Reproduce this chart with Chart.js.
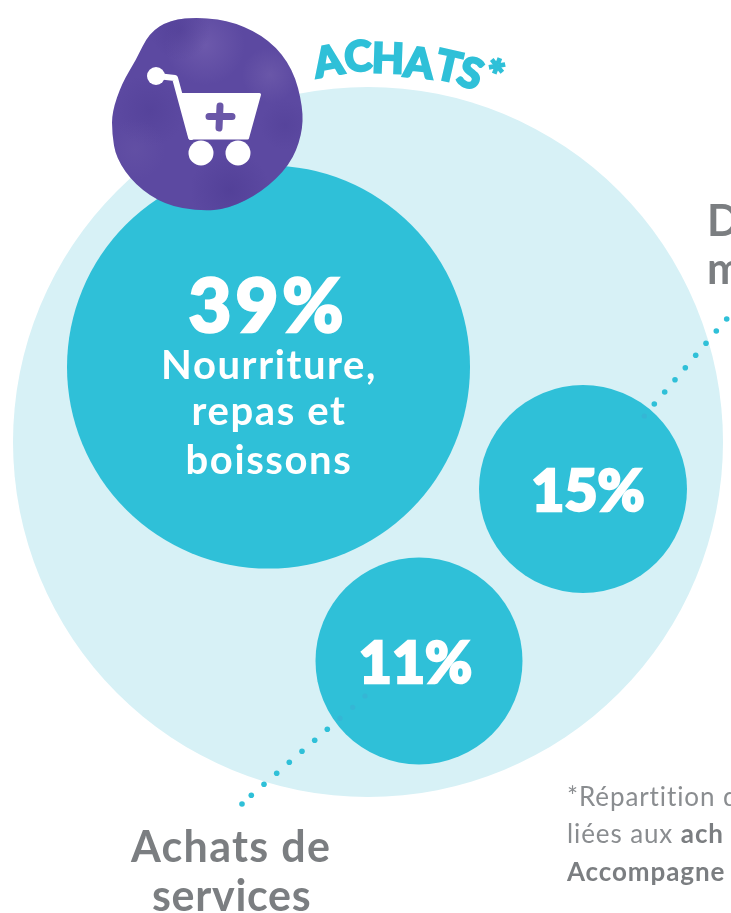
<!DOCTYPE html>
<html lang="fr">
<head>
<meta charset="utf-8">
<style>
  html, body { margin: 0; width: 731px; height: 913px; overflow: hidden; background: #fff; }
  body { position: relative; font-family: "Lato", sans-serif; }
  canvas { position: absolute; left: 0; top: 0; }
  .txt { position: absolute; white-space: nowrap; line-height: 1; }
  .pct { color: #fff; font-weight: 900; transform: translate(-50%, -50%); -webkit-text-stroke: 2.5px #fff; }
  .name { color: #fff; font-weight: 700; font-size: 40px; letter-spacing: 1.6px; text-align: center; transform: translateX(-50%); }
  .side { color: #7b7e81; font-weight: 700; font-size: 43px; text-align: center; }
  .note { color: #8a8d90; font-size: 26px; letter-spacing: 0.9px; }
  .note b { color: #7b7e81; }
  .letter { color: #2fc0d8; font-weight: 900; font-size: 42px; transform: translate(-50%, -50%); -webkit-text-stroke: 2px #2fc0d8; }
</style>
</head>
<body>
<canvas id="chart" width="731" height="913"></canvas>
<script src="https://cdn.jsdelivr.net/npm/chart.js"></script>
<script>
  // shares
  const shares = [39, 15, 11];
  const bubbleX = [268.5, 583, 419];
  const bubbleY = [367, 489, 661];
  const bubbleR = [201.5, 104, 103.5];

  const outerX = [368];
  const outerY = [442];
  const outerR = [355];

  // dotted leader lines
  const dotsX = [726.7, 716.3, 706, 695.7, 685.3, 675, 664.7, 654.3, 327.3, 314.7, 302, 289.3, 276.7, 264, 251.3, 242];
  const dotsY = [319, 331, 343.3, 355.3, 367.7, 379.7, 392, 404, 729.3, 740.3, 751.3, 762.3, 773.3, 784.3, 795.3, 804];
  const fadedX = [644.3, 340, 352.7, 365];
  const fadedY = [416, 718.3, 707.3, 696];

  const zip = (xs, ys, rs) => xs.map((x, i) => ({ x: x, y: ys[i], r: rs ? rs[i] : undefined }));

  // purple blob with the cart icon on top of the circles
  const blobOutline = [[200,17],[235,22],[270,40],[293,69],[303,107],[302,135],[290,165],[262,192],[228,209],[200,211],[165,205],[135,185],[116,158],[112,133],[112,112],[122,83],[136,60],[149,33],[170,20]];
  const blotches = [[205,45,40,"#7a66b4",.55],[270,75,28,"#7764b0",.5],[150,110,36,"#4c3a92",.4],[230,190,40,"#4a3890",.5],[135,150,30,"#6a58a8",.4],[285,125,25,"#4e3c94",.4],[180,30,30,"#4c3a92",.5]];

  const cartIcon = {
    id: "cartIcon",
    afterDatasetsDraw(chart) {
      const c = chart.ctx;
      c.save();
      c.beginPath();
      const n = blobOutline.length;
      const mid = (a, b) => [(a[0] + b[0]) / 2, (a[1] + b[1]) / 2];
      let s = mid(blobOutline[n - 1], blobOutline[0]);
      c.moveTo(s[0], s[1]);
      blobOutline.forEach((p, i) => {
        const m = mid(p, blobOutline[(i + 1) % n]);
        c.quadraticCurveTo(p[0], p[1], m[0], m[1]);
      });
      c.closePath();
      c.fillStyle = "#5c49a1";
      c.fill();
      c.clip();
      blotches.forEach(b => {
        const g = c.createRadialGradient(b[0], b[1], 0, b[0], b[1], b[2]);
        g.addColorStop(0, b[3]);
        g.addColorStop(1, b[3] + "00");
        c.globalAlpha = b[4];
        c.fillStyle = g;
        c.fillRect(b[0] - b[2], b[1] - b[2], b[2] * 2, b[2] * 2);
      });
      c.globalAlpha = 1;
      c.restore();

      c.save();
      c.fillStyle = "#fff";
      c.strokeStyle = "#fff";
      c.lineJoin = "round";
      c.lineCap = "round";
      c.lineWidth = 6;
      c.beginPath();
      c.moveTo(157, 76);
      c.lineTo(175, 78);
      c.lineTo(191, 137);
      c.stroke();
      c.beginPath();
      c.arc(156, 76, 9, 0, Math.PI * 2);
      c.fill();
      c.lineWidth = 3;
      c.beginPath();
      c.moveTo(182, 94.5);
      c.lineTo(259.5, 94.5);
      c.lineTo(247.5, 138);
      c.lineTo(190, 138);
      c.closePath();
      c.fill();
      c.stroke();
      [201, 238].forEach(x => {
        c.beginPath();
        c.arc(x, 153, 12.5, 0, Math.PI * 2);
        c.fill();
      });
      c.strokeStyle = "#6a57a8";
      c.lineWidth = 7;
      c.lineCap = "round";
      c.beginPath();
      c.moveTo(209, 116.5);
      c.lineTo(232, 116.5);
      c.moveTo(220, 106);
      c.lineTo(219, 128);
      c.stroke();
      c.restore();
    }
  };

  const chart = new Chart(document.getElementById("chart"), {
    type: "bubble",
    data: {
      datasets: [
        { type: "scatter", data: zip(fadedX, fadedY), pointRadius: 2.6, pointBackgroundColor: "rgba(70,160,205,.3)", pointBorderWidth: 0 },
        { type: "scatter", data: zip(dotsX, dotsY), pointRadius: 2.8, pointBackgroundColor: "#2fc0d8", pointBorderWidth: 0 },
        { label: "Achats", data: zip(bubbleX, bubbleY, bubbleR), backgroundColor: "#2fc0d8", borderWidth: 0 },
        { label: "Total", data: zip(outerX, outerY, outerR), backgroundColor: "#d7f1f6", borderWidth: 0 }
      ]
    },
    options: {
      responsive: false,
      animation: false,
      layout: { autoPadding: false, padding: 0 }, // big radii would squeeze the plot otherwise
      events: [],
      plugins: { legend: { display: false }, tooltip: { enabled: false } },
      scales: {
        x: { type: "linear", min: 0, max: 731, display: false },
        y: { type: "linear", min: 0, max: 913, reverse: true, display: false }
      }
    },
    plugins: [cartIcon]
  });

  function addText(cls, html, x, y, css) {
    const d = document.createElement("div");
    d.className = "txt " + cls;
    d.innerHTML = html;
    d.style.left = x + "px";
    d.style.top = y + "px";
    Object.assign(d.style, css || {});
    document.body.appendChild(d);
    return d;
  }

  // percentage labels follow the bubbles through the scales
  const pctSizes = [74, 57, 57];
  const pctDx = [-0.5, 5, -3.5];
  const pctDy = [-63, 0, 0];
  const pctSpacing = [4, 0, 0];
  shares.forEach((v, i) => {
    addText("pct", v + "%",
      chart.scales.x.getPixelForValue(bubbleX[i]) + pctDx[i],
      chart.scales.y.getPixelForValue(bubbleY[i]) + pctDy[i],
      { fontSize: pctSizes[i] + "px", letterSpacing: pctSpacing[i] + "px" });
  });

  addText("name", "Nourriture,", 269, 344);
  addText("name", "repas et", 269, 390);
  addText("name", "boissons", 269, 439);

  addText("side", "Achats de", 131, 824, { letterSpacing: "1.3px" });
  addText("side", "services", 152, 873, { letterSpacing: "0.7px" });
  addText("side", "D", 707, 198);
  addText("side", "m", 707, 246);

  addText("note", "*Répartition d", 567, 783);
  addText("note", "liées aux <b>ach</b>", 567, 820);
  addText("note", "<b>Accompagne</b>", 567, 858);

  // curved title, one letter at a time
  const titleLetters = ["A", "C", "H", "A", "T", "S", "*"];
  const titleX = [328, 358, 388, 419, 449, 471, 494];
  const titleY = [60, 55, 57, 62, 65, 72, 74];
  const titleRot = [-10, -3, 2, 6, 13, 20, 20];
  titleLetters.forEach((l, i) => {
    const d = addText("letter", l, titleX[i], titleY[i]);
    d.style.transform = "translate(-50%, -50%) rotate(" + titleRot[i] + "deg)";
  });
</script>
</body>
</html>
